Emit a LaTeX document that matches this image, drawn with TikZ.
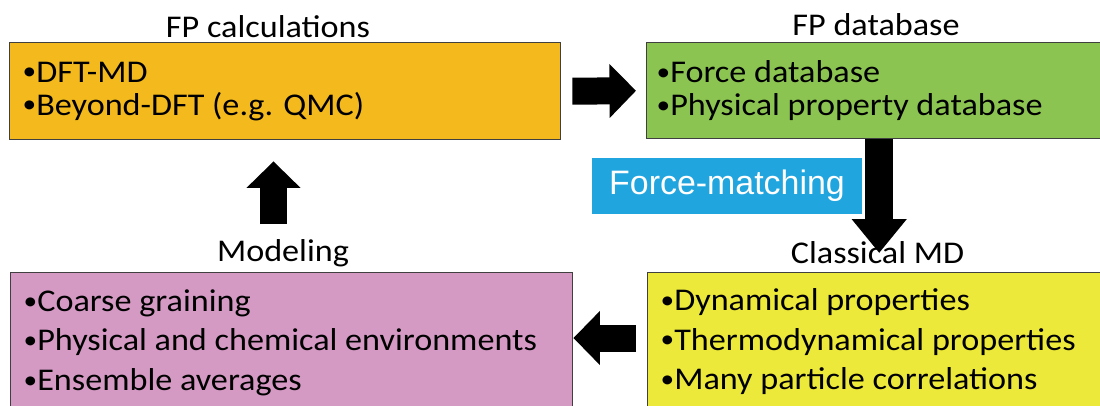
\documentclass[tikz,border=0pt]{standalone}
\usepackage{fontspec}
\setmainfont{Carlito}[FakeStretch=1.08]
\newfontfamily\arialfont{Liberation Sans}
\usetikzlibrary{arrows.meta,positioning}
\definecolor{orangefp}{RGB}{243,185,29}
\definecolor{vertfp}{RGB}{140,196,82}
\definecolor{rosefp}{RGB}{212,154,196}
\definecolor{jaunefp}{RGB}{236,233,58}
\definecolor{bleufp}{RGB}{33,165,222}
\newcommand{\puce}{\raisebox{0.07em}{\scalebox{0.8}{•}}}
\begin{document}
\begin{tikzpicture}
  [boite/.style={
    draw=black!75,
    line width=0.8pt,
    rectangle,
    anchor=north west,
    inner xsep=0.26cm,
    inner ysep=0pt,
    font=\fontsize{18}{18.8}\selectfont}, boitebas/.style={
    boite,
    font=\fontsize{18}{22.4}\selectfont}, titre/.style={
    anchor=base,
    inner sep=0pt,
    font=\fontsize{18}{20}\selectfont}, fleche/.style={
    line width=0.54cm,
    -{Triangle[width=1.05cm,length=0.53cm]}}]

  \useasboundingbox (0,0) rectangle (22,-8.1);

  \node [boite, fill=orangefp, minimum width=11.02cm, minimum height=1.94cm]
    at (0.18,-0.84) (calc) {
  \begin{minipage}{10.5cm}
    \puce DFT-MD\\
    \puce Beyond-DFT (e.g. QMC)
  \end{minipage}
  };

  \node [boite, fill=vertfp, minimum width=9.28cm, minimum height=1.92cm,
    inner xsep=0.2cm] at (12.92,-0.84) (db) {
  \begin{minipage}{8.88cm}
    \puce Force database\\
    \puce Physical property database
  \end{minipage}
  };

  \node [boitebas, fill=rosefp, minimum width=11.24cm, minimum height=2.8cm]
    at (0.2,-5.44) (mod) {
  \begin{minipage}{10.72cm}
    \puce Coarse graining\\
    \puce Physical and chemical environments\\
    \puce Ensemble averages
  \end{minipage}
  };

  \node [boitebas, fill=jaunefp, minimum width=9.26cm, minimum height=2.76cm]
    at (12.94,-5.44) (md) {
  \begin{minipage}{8.74cm}
    \puce Dynamical properties\\
    \puce Thermodynamical properties\\
    \puce Many particle correlations
  \end{minipage}
  };

  \node [titre] at (5.36,-0.74) (tcalc) {FP calculations};
  \node [titre] at (17.52,-0.70) (tdb) {FP database};
  \node [titre] at (5.66,-5.22) (tmod) {Modeling};
  \node [titre] at (17.55,-5.26) (tmd) {Classical MD};

  \node [fill=bleufp, text=white, minimum width=5.4cm, minimum height=1.12cm,
    font=\arialfont\fontsize{19.3}{20}\selectfont] at (14.54,-3.72) (fm)
    {Force-matching};

  \coordinate (piedhaut) at (5.47,-4.48);
  \coordinate (niveaugauche) at (0,-6.76);

  \draw [fleche, shorten <=0.22cm, shorten >=0.2cm] (calc.east) -- (db.west);
  \draw [fleche, line width=0.56cm, -{Triangle[width=1.06cm,length=0.68cm]},
    shorten >=0.38cm] (md.north |- db.south) -- (md.north);
  \draw [fleche, shorten <=0.22cm] (md.west |- niveaugauche)
    -- (mod.east |- niveaugauche);
  \draw [fleche, shorten >=0.42cm] (piedhaut) -- (piedhaut |- calc.south);
\end{tikzpicture}
\end{document}
